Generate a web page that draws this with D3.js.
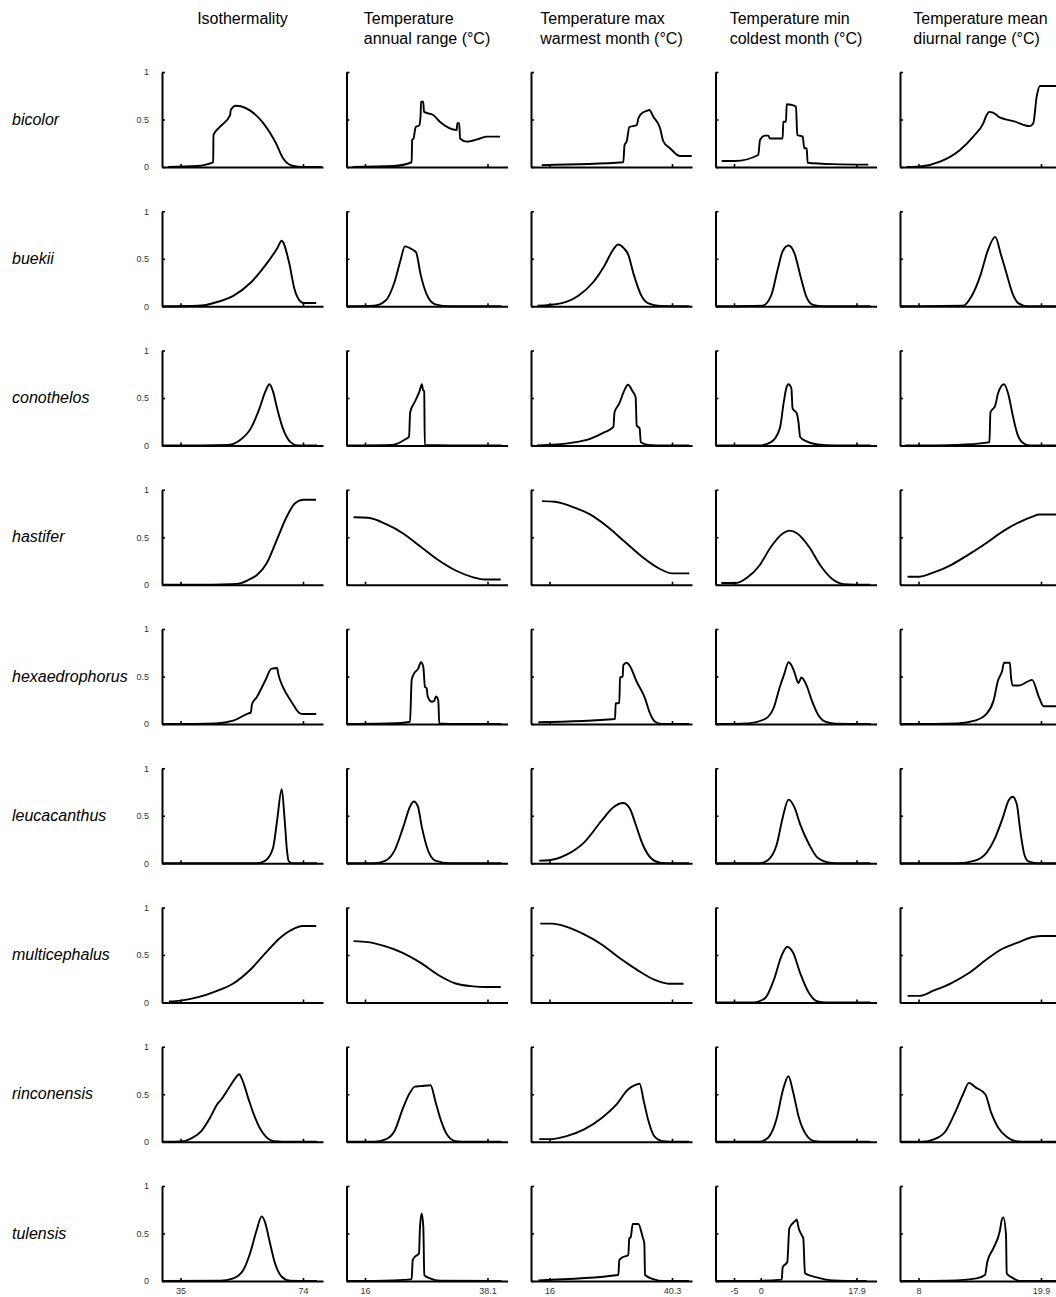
<!DOCTYPE html>
<html>
<head>
<meta charset="utf-8">
<script src="https://cdn.jsdelivr.net/npm/d3@7"></script>
<style>
  body { margin: 0; background: #fff; }
  text { font-family: "Liberation Sans", Arial, sans-serif; }
</style>
</head>
<body>
<div id="chart"></div>
<script>
// species (rows) and climate variables (columns)
const species = ["bicolor", "buekii", "conothelos", "hastifer", "hexaedrophorus",
                 "leucacanthus", "multicephalus", "rinconensis", "tulensis"];
const variables = [
    ["Isothermality"],
    ["Temperature", "annual range (°C)"],
    ["Temperature max", "warmest month (°C)"],
    ["Temperature min", "coldest month (°C)"],
    ["Temperature mean", "diurnal range (°C)"]
];
const xTicks = [[35, 74], [16, 38.1], [16, 40.3], [-5, 17.9], [8, 19.9]];
const xTicksBottom = [[35, 74], [16, 38.1], [16, 40.3], [-5, 0, 17.9], [8, 19.9]];
const yTicks = [0, 0.5, 1];

// response curves, one list per variable: [value, probability]
const bicolor = [
    [[31.0,0],[40.2,0.01],[43.3,0.028],[45.4,0.05],[45.5,0.337],[47.6,0.424],[50.8,0.547],[51.0,0.6],[52.6,0.645],[61.4,0.46],[65.4,0.25],[67.7,0.09],[70.9,0.01],[74.0,0],[80.0,0]],
    [[13.75,0],[21.1,0.01],[24.42,0.05],[24.5,0.284],[24.75,0.3],[25.15,0.42],[25.8,0.44],[26.05,0.565],[26.1,0.687],[26.5,0.687],[26.65,0.58],[28.3,0.547],[29.5,0.477],[32.55,0.39],[32.65,0.46],[33.0,0.46],[33.15,0.3],[34.35,0.267],[36.75,0.3],[37.95,0.32],[40.35,0.32]],
    [[14.45,0.02],[30.64,0.05],[30.88,0.23],[31.32,0.27],[31.83,0.42],[33.3,0.44],[33.62,0.51],[34.29,0.565],[35.28,0.59],[35.8,0.6],[36.59,0.53],[37.92,0.41],[38.58,0.27],[39.91,0.197],[41.89,0.116],[44.21,0.116]],
    [[-7.3,0.063],[-4.81,0.063],[-0.46,0.126],[-0.14,0.284],[0.79,0.33],[1.41,0.33],[1.73,0.3],[4.1,0.3],[4.21,0.477],[4.72,0.477],[4.85,0.66],[5.65,0.655],[6.59,0.635],[6.83,0.337],[7.84,0.32],[8.14,0.197],[8.59,0.197],[8.77,0.045],[13.56,0.03],[20.1,0.025]],
    [[6.85,0],[8.15,0.005],[10.09,0.056],[12.03,0.18],[13.32,0.32],[14.29,0.46],[14.62,0.547],[14.88,0.58],[15.6,0.547],[15.75,0.53],[17.3,0.48],[18.83,0.43],[19.15,0.46],[19.48,0.74],[19.8,0.853],[21.55,0.853]]
];
const buekii = [
    [[29.5,0],[40.6,0.005],[42.5,0.01],[46.2,0.04],[51.8,0.11],[57.4,0.25],[62.0,0.43],[65.8,0.61],[67.2,0.69],[69.5,0.47],[71.3,0.18],[73.2,0.05],[74.1,0.035],[78.2,0.035]],
    [[12.88,0],[17.62,0.005],[19.72,0.06],[21.3,0.25],[22.35,0.47],[23.2,0.63],[24.46,0.6],[25.2,0.57],[26.05,0.33],[27.09,0.13],[28.68,0.02],[31.32,0],[40.62,0]],
    [[13.6,0.005],[18.24,0.03],[21.71,0.11],[24.61,0.25],[26.93,0.43],[28.68,0.6],[29.59,0.65],[30.76,0.61],[31.57,0.55],[32.73,0.33],[34.23,0.11],[35.62,0.03],[37.94,0.004],[43.74,0]],
    [[-8.23,0],[0.27,0.005],[1.92,0.11],[3.22,0.4],[4.1,0.58],[5.19,0.64],[6.29,0.56],[7.37,0.33],[8.46,0.11],[9.77,0.015],[11.75,0],[20.51,0]],
    [[6.26,0],[12.33,0.005],[13.18,0.11],[14.03,0.33],[14.71,0.58],[15.45,0.73],[16.02,0.54],[16.59,0.33],[17.15,0.13],[17.72,0.03],[18.57,0],[21.55,0]]
];
const conothelos = [
    [[29.49,0],[49.93,0.007],[53.66,0.05],[57.38,0.18],[60.15,0.39],[62.03,0.57],[63.34,0.645],[64.45,0.57],[65.76,0.39],[67.6,0.18],[70.02,0.035],[72.25,0],[78.46,0]],
    [[12.88,0],[20.78,0.005],[21.83,0.02],[23.41,0.07],[23.94,0.09],[24.15,0.35],[24.98,0.46],[25.83,0.57],[26.26,0.645],[26.46,0.585],[26.68,0.57],[26.79,0.005],[31.32,0],[40.62,0]],
    [[13.52,0],[20.56,0.03],[24.04,0.07],[26.93,0.14],[28.68,0.195],[28.9,0.35],[29.83,0.44],[30.76,0.57],[31.57,0.64],[32.49,0.57],[33.08,0.51],[33.3,0.21],[33.88,0.18],[34.11,0.035],[35.62,0.007],[39.09,0],[43.68,0]],
    [[-8.23,0],[-0.27,0],[1.92,0.035],[3.56,0.18],[4.31,0.46],[4.76,0.6],[5.19,0.645],[5.73,0.6],[5.95,0.39],[6.72,0.34],[7.04,0.25],[7.37,0.09],[8.46,0.046],[10.64,0.01],[13.91,0],[20.51,0]],
    [[6.66,0],[11.76,0.007],[14.6,0.03],[14.89,0.035],[14.99,0.35],[15.45,0.42],[15.73,0.55],[16.31,0.645],[16.75,0.53],[17.15,0.32],[17.61,0.12],[18.12,0.03],[18.86,0],[21.55,0]]
];
const hastifer = [
    [[29.49,0],[45.35,0.001],[50.76,0.006],[53.94,0.015],[56.59,0.05],[59.26,0.1],[62.45,0.226],[65.63,0.47],[68.81,0.716],[71.46,0.857],[74.1,0.895],[78.14,0.895]],
    [[13.93,0.71],[16.56,0.705],[19.72,0.64],[22.89,0.54],[26.05,0.4],[29.21,0.26],[32.36,0.15],[35.54,0.078],[37.63,0.055],[40.48,0.055]],
    [[14.53,0.88],[17.07,0.873],[20.56,0.82],[24.04,0.74],[27.51,0.61],[30.98,0.45],[34.47,0.29],[37.94,0.166],[40.26,0.12],[43.74,0.12]],
    [[-7.37,0.018],[-4.64,0.018],[-2.46,0.078],[-0.27,0.2],[1.92,0.4],[4.1,0.54],[5.41,0.57],[6.83,0.54],[9.02,0.4],[11.19,0.2],[13.37,0.06],[15.56,0.007],[20.47,0]],
    [[6.94,0.085],[8.08,0.085],[9.5,0.13],[11.2,0.21],[12.9,0.32],[14.6,0.44],[16.31,0.57],[18.01,0.67],[19.14,0.72],[19.71,0.74],[21.55,0.74]]
];
const hexaedrophorus = [
    [[29.49,0],[46.2,0.007],[51.8,0.035],[56.46,0.11],[57.38,0.12],[57.77,0.21],[59.23,0.28],[62.03,0.46],[63.88,0.58],[65.76,0.59],[66.11,0.53],[67.6,0.39],[70.41,0.23],[73.18,0.11],[74.13,0.106],[78.21,0.106]],
    [[12.88,0],[21.68,0.008],[24.12,0.024],[24.42,0.463],[24.71,0.516],[25.62,0.586],[26.1,0.65],[26.52,0.6],[26.82,0.39],[27.13,0.376],[27.31,0.29],[28.03,0.235],[28.45,0.24],[28.81,0.29],[29.22,0.25],[29.4,0.005],[31.32,0],[40.62,0]],
    [[13.78,0.018],[29.0,0.053],[29.13,0.218],[29.85,0.22],[29.99,0.49],[30.52,0.5],[30.64,0.62],[31.32,0.645],[31.83,0.62],[33.3,0.445],[34.95,0.27],[35.8,0.13],[36.93,0.024],[38.26,0],[43.68,0]],
    [[-8.23,0],[-2.46,0.007],[0.81,0.053],[2.46,0.176],[3.56,0.39],[4.42,0.53],[5.19,0.65],[6.06,0.58],[6.49,0.51],[7.04,0.43],[7.6,0.49],[8.46,0.42],[9.56,0.246],[10.64,0.106],[11.95,0.028],[13.91,0.004],[20.51,0]],
    [[6.26,0],[11.76,0.007],[13.47,0.035],[14.6,0.106],[15.29,0.246],[15.73,0.46],[16.13,0.56],[16.31,0.645],[16.87,0.645],[16.99,0.49],[17.15,0.405],[17.72,0.405],[18.86,0.46],[19.03,0.465],[19.71,0.28],[20.16,0.187],[21.55,0.187]]
];
const leucacanthus = [
    [[29.49,0],[59.23,0],[62.03,0.028],[64.45,0.16],[65.76,0.45],[67.22,0.78],[68.18,0.45],[68.91,0.13],[69.48,0.02],[70.76,0],[78.46,0]],
    [[12.88,0],[17.62,0],[19.72,0.028],[21.3,0.13],[22.89,0.38],[24.15,0.6],[24.79,0.65],[25.53,0.6],[26.26,0.38],[27.31,0.145],[28.68,0.028],[31.32,0],[40.62,0]],
    [[13.96,0.028],[15.92,0.032],[19.39,0.09],[22.88,0.22],[26.36,0.45],[28.68,0.59],[30.6,0.635],[31.91,0.58],[33.08,0.41],[34.47,0.2],[36.2,0.05],[37.94,0.007],[40.26,0],[43.68,0]],
    [[-8.23,0],[-0.27,0],[1.37,0.035],[3.0,0.2],[4.1,0.48],[5.19,0.67],[6.29,0.59],[7.37,0.41],[9.02,0.2],[10.64,0.057],[12.83,0.007],[15.02,0],[20.51,0]],
    [[6.26,0],[11.76,0],[13.47,0.028],[14.6,0.11],[15.45,0.27],[16.19,0.48],[16.75,0.66],[17.15,0.7],[17.55,0.62],[17.89,0.34],[18.29,0.09],[18.69,0.02],[19.71,0],[21.55,0]]
];
const multicephalus = [
    [[31.34,0.01],[35.06,0.02],[40.64,0.056],[46.21,0.117],[51.81,0.2],[57.38,0.35],[62.03,0.52],[66.68,0.68],[71.33,0.78],[73.75,0.805],[78.21,0.805]],
    [[13.93,0.646],[16.56,0.636],[19.72,0.59],[22.89,0.52],[26.05,0.417],[29.21,0.29],[32.36,0.2],[35.54,0.17],[37.63,0.163],[40.48,0.163]],
    [[14.17,0.83],[16.5,0.83],[19.39,0.796],[22.88,0.717],[26.36,0.611],[29.83,0.47],[33.3,0.346],[36.77,0.24],[39.69,0.198],[42.59,0.198]],
    [[-8.23,0],[-1.36,0],[0.81,0.046],[2.46,0.24],[3.88,0.49],[4.96,0.587],[6.06,0.523],[7.37,0.31],[9.02,0.1],[10.64,0.01],[12.29,0],[20.51,0]],
    [[6.94,0.07],[8.08,0.07],[9.5,0.127],[11.2,0.205],[12.9,0.31],[14.6,0.452],[16.02,0.558],[17.44,0.622],[19.14,0.689],[19.99,0.7],[21.55,0.7]]
];
const rinconensis = [
    [[29.49,0],[35.99,0.007],[38.79,0.042],[41.56,0.11],[44.36,0.25],[46.59,0.39],[48.09,0.45],[50.86,0.59],[52.73,0.68],[53.66,0.71],[54.58,0.66],[56.46,0.47],[58.31,0.29],[60.15,0.15],[62.03,0.06],[64.8,0.007],[70.41,0],[78.46,0]],
    [[12.88,0],[17.62,0],[19.72,0.025],[21.3,0.11],[22.89,0.36],[24.15,0.52],[24.98,0.58],[26.05,0.585],[27.83,0.595],[28.68,0.43],[29.73,0.22],[30.79,0.077],[32.36,0.007],[34.47,0],[40.62,0]],
    [[13.96,0.028],[16.5,0.028],[19.39,0.06],[22.88,0.13],[26.36,0.25],[29.25,0.39],[31.57,0.55],[32.73,0.59],[33.88,0.61],[34.69,0.43],[35.62,0.22],[36.77,0.06],[38.52,0.007],[41.42,0],[43.68,0]],
    [[-8.23,0],[-0.27,0],[1.37,0.042],[3.0,0.25],[4.1,0.535],[5.19,0.69],[6.06,0.52],[7.15,0.25],[8.46,0.077],[10.1,0.007],[12.29,0],[20.51,0]],
    [[6.26,0],[8.36,0],[9.5,0.025],[10.63,0.11],[11.48,0.29],[12.33,0.5],[12.9,0.62],[13.58,0.57],[14.49,0.5],[15.05,0.31],[15.73,0.15],[16.59,0.05],[17.44,0.007],[18.57,0],[21.55,0]]
];
const tulensis = [
    [[29.49,0],[47.58,0.003],[51.81,0.028],[55.0,0.116],[57.13,0.29],[59.26,0.537],[60.85,0.68],[61.9,0.62],[63.5,0.397],[65.09,0.186],[67.22,0.045],[69.86,0.003],[78.46,0]],
    [[12.88,0],[21.11,0.007],[24.42,0.02],[24.61,0.22],[25.02,0.256],[25.74,0.29],[25.92,0.57],[26.23,0.71],[26.52,0.57],[26.7,0.063],[27.73,0.028],[29.53,0.003],[40.62,0]],
    [[13.78,0.007],[29.65,0.063],[29.85,0.22],[30.32,0.245],[31.63,0.274],[31.83,0.45],[32.11,0.46],[32.51,0.6],[33.62,0.6],[34.49,0.46],[34.81,0.397],[34.95,0.063],[36.59,0.02],[38.58,0],[43.68,0]],
    [[-8.23,0],[-2.01,0],[3.92,0.014],[4.1,0.144],[4.96,0.2],[5.34,0.555],[6.4,0.63],[6.72,0.645],[7.09,0.555],[7.65,0.484],[7.95,0.45],[8.27,0.08],[10.46,0.039],[13.56,0.007],[19.8,0]],
    [[6.26,0],[11.71,0.007],[13.65,0.028],[14.46,0.063],[14.68,0.2],[15.27,0.344],[15.92,0.537],[16.08,0.64],[16.24,0.67],[16.5,0.484],[16.57,0.08],[17.05,0.039],[17.86,0],[21.55,0]]
];
const curves = [bicolor, buekii, conothelos, hastifer, hexaedrophorus,
                leucacanthus, multicephalus, rinconensis, tulensis];

// layout
const width = 1056, height = 1297;
const left0 = 162, top0 = 72;
const colStep = 184.5, rowStep = 139.25;
const panelW = 161, panelH = 95;
const tickL = 18.5, tickR = 141;   // where the end ticks sit inside a panel

var svg = d3.select("#chart")
    .append("svg")
    .attr("width", width)
    .attr("height", height);

svg.append("rect").attr("width", width).attr("height", height).attr("fill", "#fff");

// x scales: the end tick values sit a bit inside the axis line
var xScales = xTicks.map(function(t) {
    var s = d3.scaleLinear().domain([t[0], t[t.length - 1]]).range([tickL, tickR]);
    return d3.scaleLinear().domain([s.invert(0), s.invert(panelW)]).range([0, panelW]);
});
var y = d3.scaleLinear().domain([0, 1]).range([panelH, 0]);

var line = d3.line().curve(d3.curveMonotoneX);

// column titles, block centred over the panel, lines left aligned
variables.forEach(function(lines, j) {
    var cx = left0 + j * colStep + panelW / 2;
    var t = svg.append("text")
        .style("font-size", "16px")
        .attr("fill", "#000");
    lines.forEach(function(l, k) {
        t.append("tspan").attr("y", 24 + k * 20).text(l);
    });
    var maxW = d3.max(t.selectAll("tspan").nodes(), function(n) { return n.getComputedTextLength(); });
    t.selectAll("tspan").attr("x", cx - maxW / 2);
});

species.forEach(function(sp, i) {
    var top = top0 + i * rowStep;
    var last = i === species.length - 1;

    svg.append("text")
        .attr("x", 12)
        .attr("y", top + y(0.5) + 5)
        .style("font-size", "16px")
        .style("font-style", "italic")
        .text(sp);

    variables.forEach(function(v, j) {
        var x = xScales[j];
        var g = svg.append("g")
            .attr("transform", "translate(" + (left0 + j * colStep) + "," + top + ")");

        g.append("g")
            .attr("class", "axis")
            .attr("transform", "translate(0," + panelH + ")")
            .call(d3.axisBottom(x)
                .tickValues(last ? xTicksBottom[j] : xTicks[j])
                .tickSize(-3).tickSizeOuter(0).tickPadding(7)
                .tickFormat(last ? function(d) { return String(d); } : function() { return ""; }));

        g.append("g")
            .attr("class", "axis")
            .call(d3.axisLeft(y)
                .tickValues(yTicks)
                .tickSize(-3).tickSizeOuter(0).tickPadding(13)
                .tickFormat(j === 0 ? function(d) { return String(d); } : function() { return ""; }));

        line.x(function(d) { return x(d[0]); }).y(function(d) { return y(d[1]); });
        g.append("path")
            .attr("d", line(curves[i][j]))
            .attr("fill", "none")
            .attr("stroke", "#000")
            .attr("stroke-width", 1.9)
            .attr("stroke-linejoin", "round");
    });
});

svg.selectAll(".axis .domain").attr("stroke", "#000").attr("stroke-width", 2);
svg.selectAll(".axis .tick line").attr("stroke", "#000").attr("stroke-width", 1.6);
svg.selectAll(".axis text")
    .attr("fill", "#333")
    .style("font-size", "9px")
    .style("font-family", "'Liberation Sans', Arial, sans-serif");
</script>
</body>
</html>
